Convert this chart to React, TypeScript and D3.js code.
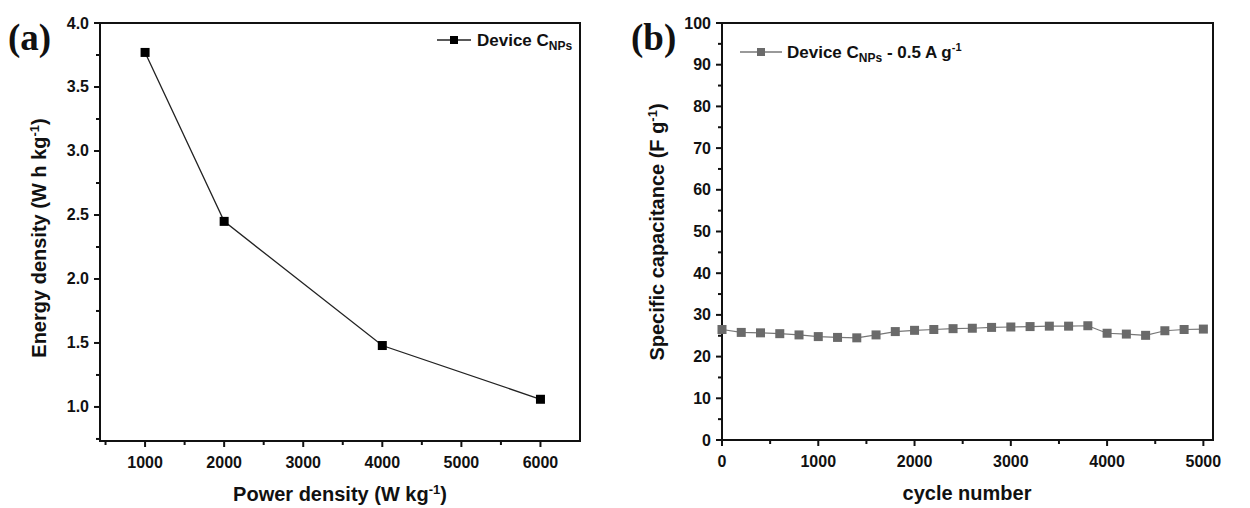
import React, { useEffect, useRef } from 'react';
import * as d3 from 'd3';

const powerDensity = [1000, 2000, 4000, 6000];
const energyDensity = [3.77, 2.45, 1.48, 1.06];

const cycles = [0, 200, 400, 600, 800, 1000, 1200, 1400, 1600, 1800, 2000, 2200, 2400, 2600, 2800, 3000, 3200, 3400, 3600, 3800, 4000, 4200, 4400, 4600, 4800, 5000];
const capacitance = [26.5, 25.8, 25.7, 25.5, 25.2, 24.8, 24.6, 24.5, 25.2, 26.0, 26.3, 26.5, 26.7, 26.8, 27.0, 27.1, 27.2, 27.3, 27.3, 27.4, 25.6, 25.4, 25.1, 26.2, 26.5, 26.6];

const xTicksA = [1000, 2000, 3000, 4000, 5000, 6000];
const yTicksA = [1.0, 1.5, 2.0, 2.5, 3.0, 3.5, 4.0];
const xTicksB = [0, 1000, 2000, 3000, 4000, 5000];
const yTicksB = [0, 10, 20, 30, 40, 50, 60, 70, 80, 90, 100];

const FONT = "'Liberation Sans', Arial, sans-serif";

type Sel = d3.Selection<SVGGElement, unknown, null, undefined>;

function drawFrame(g: Sel, x: d3.ScaleLinear<number, number>, y: d3.ScaleLinear<number, number>,
  xMajor: number[], xMinor: number[], yMajor: number[], yMinor: number[], yFmt: (v: number) => string) {
  const [x0, x1] = x.range();
  const [y0, y1] = y.range();
  g.append('rect')
    .attr('x', x0).attr('y', y1)
    .attr('width', x1 - x0).attr('height', y0 - y1)
    .attr('fill', 'none').attr('stroke', '#111').attr('stroke-width', 2);

  xMajor.forEach(v => {
    g.append('line').attr('x1', x(v)).attr('x2', x(v)).attr('y1', y0).attr('y2', y0 + 6)
      .attr('stroke', '#111').attr('stroke-width', 2);
    g.append('text').attr('x', x(v)).attr('y', y0 + 27)
      .attr('text-anchor', 'middle').attr('font-family', FONT).attr('font-weight', 'bold')
      .attr('font-size', 16).attr('fill', '#111').text(String(v));
  });
  xMinor.forEach(v => {
    g.append('line').attr('x1', x(v)).attr('x2', x(v)).attr('y1', y0).attr('y2', y0 + 4)
      .attr('stroke', '#111').attr('stroke-width', 2);
  });
  yMajor.forEach(v => {
    g.append('line').attr('x1', x0 - 6).attr('x2', x0).attr('y1', y(v)).attr('y2', y(v))
      .attr('stroke', '#111').attr('stroke-width', 2);
    g.append('text').attr('x', x0 - 11).attr('y', y(v) + 5.5)
      .attr('text-anchor', 'end').attr('font-family', FONT).attr('font-weight', 'bold')
      .attr('font-size', 16).attr('fill', '#111').text(yFmt(v));
  });
  yMinor.forEach(v => {
    g.append('line').attr('x1', x0 - 4).attr('x2', x0).attr('y1', y(v)).attr('y2', y(v))
      .attr('stroke', '#111').attr('stroke-width', 2);
  });
}

function labelWithSup(t: d3.Selection<SVGTextElement, unknown, null, undefined>, before: string, sup: string, after: string) {
  t.append('tspan').text(before);
  t.append('tspan').attr('font-size', '0.65em').attr('baseline-shift', 'super').text(sup);
  t.append('tspan').text(after);
}

const App: React.FC = () => {
  const svgRef = useRef<SVGSVGElement>(null);

  useEffect(() => {
    if (!svgRef.current) return;
    const svg = d3.select(svgRef.current);
    svg.selectAll('*').remove();

    // ---- panel (a)
    const xa = d3.scaleLinear().domain([430, 6500]).range([100, 580]);
    const ya = d3.scaleLinear().domain([0.734, 4.0]).range([441, 23]);
    const ga = svg.append('g') as unknown as Sel;
    drawFrame(ga, xa, ya, xTicksA, [500, 1500, 2500, 3500, 4500, 5500],
      yTicksA, [0.75, 1.25, 1.75, 2.25, 2.75, 3.25, 3.75], v => v.toFixed(1));

    const lineA = d3.line<number>().x((_d, i) => xa(powerDensity[i])).y(d => ya(d));
    ga.append('path').datum(energyDensity).attr('d', lineA)
      .attr('fill', 'none').attr('stroke', '#222').attr('stroke-width', 1.3);
    ga.selectAll('rect.pt').data(energyDensity).enter().append('rect')
      .attr('class', 'pt')
      .attr('x', (_d, i) => xa(powerDensity[i]) - 4.5).attr('y', d => ya(d) - 4.5)
      .attr('width', 9).attr('height', 9).attr('fill', '#000');

    // legend (a)
    ga.append('line').attr('x1', 437).attr('x2', 471).attr('y1', 40).attr('y2', 40)
      .attr('stroke', '#222').attr('stroke-width', 1.5);
    ga.append('rect').attr('x', 450).attr('y', 36).attr('width', 8).attr('height', 8).attr('fill', '#000');
    const la = ga.append('text').attr('x', 477).attr('y', 46).attr('font-family', FONT)
      .attr('font-weight', 'bold').attr('font-size', 17).attr('fill', '#111');
    la.append('tspan').text('Device C');
    la.append('tspan').attr('font-size', 12).attr('dy', 4).text('NPs');

    const xta = ga.append('text').attr('x', 340).attr('y', 501).attr('text-anchor', 'middle')
      .attr('font-family', FONT).attr('font-weight', 'bold').attr('font-size', 20).attr('fill', '#111');
    labelWithSup(xta, 'Power density (W kg', '-1', ')');
    const yta = ga.append('text').attr('transform', 'translate(46,238) rotate(-90)').attr('text-anchor', 'middle')
      .attr('font-family', FONT).attr('font-weight', 'bold').attr('font-size', 20).attr('fill', '#111');
    labelWithSup(yta, 'Energy density (W h kg', '-1', ')');

    ga.append('text').attr('x', 8).attr('y', 50).attr('font-family', "'Liberation Serif', 'Times New Roman', serif")
      .attr('font-weight', 'bold').attr('font-size', 37).attr('fill', '#111').text('(a)');

    // ---- panel (b)
    const xb = d3.scaleLinear().domain([0, 5100]).range([722, 1213]);
    const yb = d3.scaleLinear().domain([0, 100]).range([440, 23]);
    const gb = svg.append('g') as unknown as Sel;
    drawFrame(gb, xb, yb, xTicksB, [500, 1500, 2500, 3500, 4500],
      yTicksB, [5, 15, 25, 35, 45, 55, 65, 75, 85, 95], v => String(v));

    const lineB = d3.line<number>().x((_d, i) => xb(cycles[i])).y(d => yb(d));
    gb.append('path').datum(capacitance).attr('d', lineB)
      .attr('fill', 'none').attr('stroke', '#777').attr('stroke-width', 1.2);
    gb.selectAll('rect.pt').data(capacitance).enter().append('rect')
      .attr('class', 'pt')
      .attr('x', (_d, i) => xb(cycles[i]) - 4.5).attr('y', d => yb(d) - 4.5)
      .attr('width', 9).attr('height', 9).attr('fill', '#6a6a6a');

    // legend (b)
    gb.append('line').attr('x1', 740).attr('x2', 782).attr('y1', 52).attr('y2', 52)
      .attr('stroke', '#777').attr('stroke-width', 1.5);
    gb.append('rect').attr('x', 757).attr('y', 48).attr('width', 8).attr('height', 8).attr('fill', '#6a6a6a');
    const lb = gb.append('text').attr('x', 787).attr('y', 58).attr('font-family', FONT)
      .attr('font-weight', 'bold').attr('font-size', 17).attr('fill', '#111');
    lb.append('tspan').text('Device C');
    lb.append('tspan').attr('font-size', 12).attr('dy', 4).text('NPs');
    lb.append('tspan').attr('dy', -4).text(' - 0.5 A g');
    lb.append('tspan').attr('font-size', 11).attr('dy', -7).text('-1');

    gb.append('text').attr('x', 967).attr('y', 500).attr('text-anchor', 'middle')
      .attr('font-family', FONT).attr('font-weight', 'bold').attr('font-size', 20).attr('fill', '#111')
      .text('cycle number');
    const ytb = gb.append('text').attr('transform', 'translate(664,232) rotate(-90)').attr('text-anchor', 'middle')
      .attr('font-family', FONT).attr('font-weight', 'bold').attr('font-size', 20).attr('fill', '#111');
    labelWithSup(ytb, 'Specific capacitance (F g', '-1', ')');

    gb.append('text').attr('x', 631).attr('y', 50).attr('font-family', "'Liberation Serif', 'Times New Roman', serif")
      .attr('font-weight', 'bold').attr('font-size', 37).attr('fill', '#111').text('(b)');
  }, []);

  return (
    <svg ref={svgRef} width={1250} height={508}
      style={{ position: 'absolute', left: 0, top: 0, background: '#fff' }} />
  );
};

export default App;
